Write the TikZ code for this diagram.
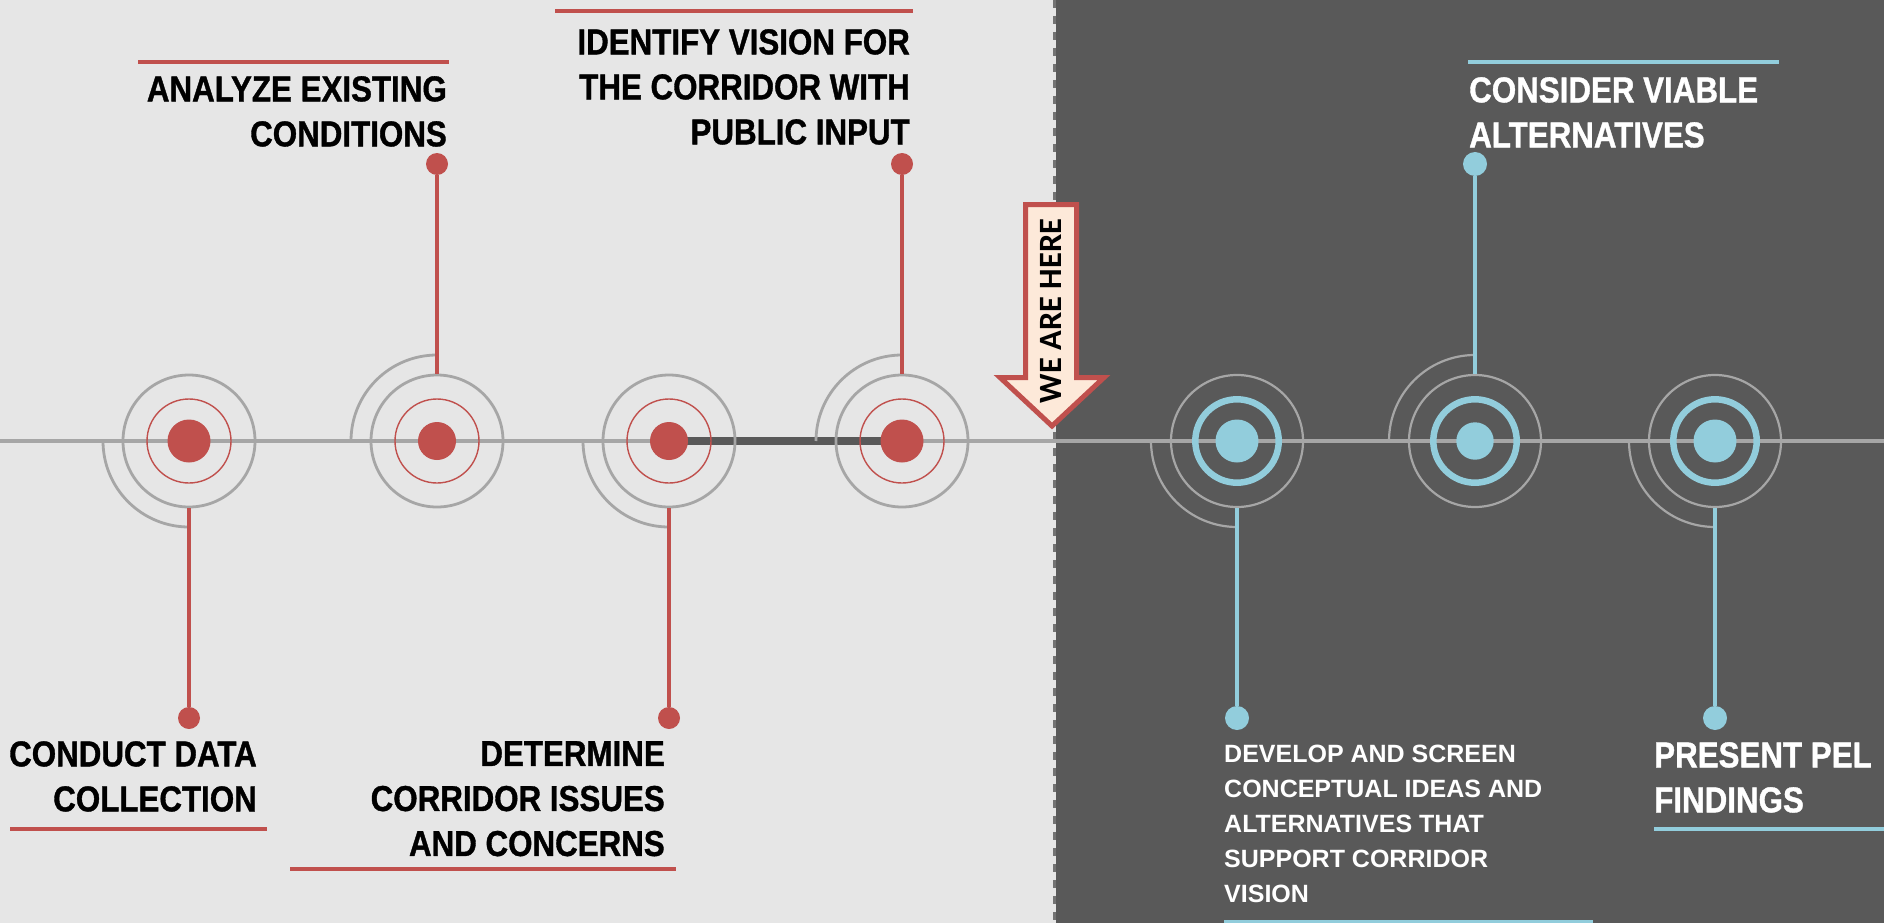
\documentclass[tikz,border=0pt]{standalone}
\usepackage{fontspec}
\usepackage{xcolor}
\setmainfont{Liberation Sans}
\newfontfamily\labelfont{Liberation Sans}[FakeStretch=0.87,BoldFeatures={FakeBold=1}]
\newfontfamily\arrowfont{Carlito}

\definecolor{lightbg}{HTML}{E6E6E6}
\definecolor{darkbg}{HTML}{595959}
\definecolor{divider}{HTML}{737373}
\definecolor{redline}{HTML}{C0504D}
\definecolor{blueline}{HTML}{92CDDC}
\definecolor{ringgray}{HTML}{A6A6A6}
\definecolor{arrowfill}{HTML}{FDE9D9}

\begin{document}
\begin{tikzpicture}[x=1pt,y=-1pt,
  ring/.style={circle,draw=ringgray,line width=#1,minimum size=132pt,inner sep=0pt},
  dot/.style={circle,fill=#1,minimum size=22pt,inner sep=0pt},
  stem/.style={draw=#1,line width=3.5pt},
  bar/.style={draw=#1,line width=4pt},
  lbl/.style={font=\labelfont\bfseries\fontsize{36}{45}\selectfont,inner sep=0pt},
  small lbl/.style={font=\bfseries\fontsize{25}{35}\selectfont,inner sep=0pt}]
  \useasboundingbox (0,0) rectangle (1884,923);
  \fill[lightbg] (0,0) rectangle (1056,923);
  \fill[darkbg] (1056,0) rectangle (1884,923);
  \draw[divider,line width=3pt,dash pattern=on 8pt off 8pt] (1054.5,0) -- (1054.5,923);

  % time line
  \coordinate (west) at (0,441);
  \coordinate (east) at (1884,441);
  \draw[ringgray,line width=3.5pt] (west) -- (east);
  \coordinate (p3) at (669,441);
  \coordinate (p4) at (902,441);
  \draw[darkbg,line width=8.5pt] (p3) -- (p4);

  % done steps
  \foreach \i/\x/\r/\side/\anc in {1/189/21.5/1/south,2/437/19/-1/north,3/669/19/1/south,4/902/21.5/-1/north} {
    \draw[ringgray,line width=2.8pt] ({\x-86},441) arc[start angle=180,end angle={180-90*\side},radius=86];
    \node[ring=2.8pt] (n\i) at (\x,441) {};
    \draw[redline,line width=1.4pt] (n\i.center) circle[radius=42];
    \fill[redline] (n\i.center) circle[radius=\r];
    \node[dot=redline] (d\i) at (\x,{441+277*\side}) {};
    \draw[stem=redline] (n\i.\anc) -- (d\i);
  }
  % next steps
  \foreach \i/\x/\r/\side/\anc in {5/1237/21.5/1/south,6/1475/18.7/-1/north,7/1715/21.5/1/south} {
    \draw[ringgray,line width=2.2pt] ({\x-86},441) arc[start angle=180,end angle={180-90*\side},radius=86];
    \node[ring=2.2pt] (n\i) at (\x,441) {};
    \draw[blueline,line width=6.5pt] (n\i.center) circle[radius=41.7];
    \fill[blueline] (n\i.center) circle[radius=\r];
    \node[dot=blueline,minimum size=24pt] (d\i) at (\x,{441+277*\side}) {};
    \draw[stem=blueline] (n\i.\anc) -- (d\i);
  }

  % labels
  \node[lbl,anchor=north east,align=right] (t1) at (257,741) {CONDUCT DATA\\COLLECTION};
  \node[lbl,anchor=north east,align=right] (t2) at (447,76) {ANALYZE EXISTING\\CONDITIONS};
  \node[lbl,anchor=north east,align=right] (t3) at (665,741) {DETERMINE\\CORRIDOR ISSUES\\AND CONCERNS};
  \node[lbl,anchor=north east,align=right] (t4) at (910,29) {IDENTIFY VISION FOR\\THE CORRIDOR WITH\\PUBLIC INPUT};
  \node[small lbl,white,anchor=north west,align=left] (t5) at (1224,745) {DEVELOP AND SCREEN\\CONCEPTUAL IDEAS AND\\ALTERNATIVES THAT\\SUPPORT CORRIDOR\\VISION};
  \node[lbl,white,anchor=north west,align=left] (t6) at (1469,77) {CONSIDER VIABLE\\ALTERNATIVES};
  \node[lbl,white,anchor=north west,align=left] (t7) at (1654,742) {PRESENT PEL\\FINDINGS};

  \draw[bar=redline] (10,829) -- (267,829);
  \draw[bar=redline] (138,62) -- (449,62);
  \draw[bar=redline] (290,869) -- (676,869);
  \draw[bar=redline] (555,11) -- (913,11);
  \draw[bar=blueline] (1224,922) -- (1593,922);
  \draw[bar=blueline] (1468,62) -- (1779,62);
  \draw[bar=blueline] (1654,829) -- (1884,829);

  % we are here
  \draw[redline,fill=arrowfill,line width=5pt,line join=miter]
    (1025.5,204.5) -- (1076.5,204.5) -- (1076.5,377.5) -- (1104,377.5)
    -- (1052,426) -- (1000,377.5) -- (1025.5,377.5) -- cycle;
  \node[font=\arrowfont\bfseries\fontsize{32.5}{32.5}\selectfont,rotate=90,inner sep=0pt] (here) at (1051,311) {WE ARE HERE};
\end{tikzpicture}
\end{document}
